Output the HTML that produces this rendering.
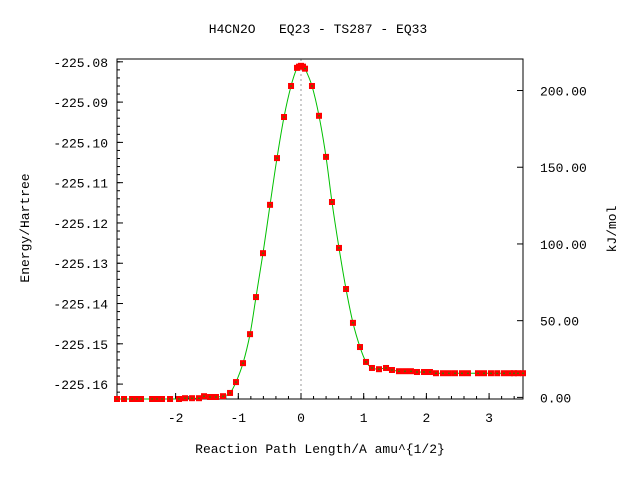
<!DOCTYPE html>
<html><head><meta charset="utf-8"><style>
body{margin:0;background:#fff}
svg text{font-family:"Liberation Mono",monospace;font-size:13px;fill:#000}
</style></head><body>
<svg id="chart" width="640" height="480" xmlns="http://www.w3.org/2000/svg">
<rect width="640" height="480" fill="#fff"/>
<text x="318" y="33" text-anchor="middle" xml:space="preserve">H4CN2O   EQ23 - TS287 - EQ33</text>
<text transform="translate(29,228) rotate(-90)" text-anchor="middle">Energy/Hartree</text>
<text transform="translate(616,229) rotate(-90)" text-anchor="middle">kJ/mol</text>
<text x="320" y="453" text-anchor="middle">Reaction Path Length/A amu^{1/2}</text>
<g id="axes"></g>
<g id="plot"></g>
</svg>
<script>
const xs=[-2.935,-2.823,-2.695,-2.616,-2.552,-2.376,-2.297,-2.217,-2.089,-1.946,-1.850,-1.738,-1.627,-1.547,-1.451,-1.356,-1.244,-1.132,-1.037,-0.925,-0.813,-0.718,-0.606,-0.494,-0.383,-0.271,-0.159,-0.064,-0.032,0,0.032,0.064,0.175,0.287,0.399,0.494,0.606,0.718,0.829,0.941,1.037,1.132,1.244,1.356,1.451,1.563,1.659,1.754,1.850,1.962,2.057,2.153,2.265,2.360,2.456,2.568,2.663,2.823,2.919,3.030,3.13,3.238,3.333,3.397,3.46,3.541];
const energies=[-225.1637,-225.1637,-225.1637,-225.1637,-225.1637,-225.1637,-225.1637,-225.1637,-225.1637,-225.1637,-225.1635,-225.1635,-225.1635,-225.1630,-225.1632,-225.1632,-225.1630,-225.1622,-225.1595,-225.1548,-225.1476,-225.1384,-225.1275,-225.1155,-225.1039,-225.0937,-225.0860,-225.0815,-225.0812,-225.0810,-225.0812,-225.0817,-225.0860,-225.0934,-225.1036,-225.1148,-225.1262,-225.1364,-225.1448,-225.1508,-225.1545,-225.1560,-225.1563,-225.1560,-225.1565,-225.1568,-225.1568,-225.1568,-225.1570,-225.1570,-225.1570,-225.1573,-225.1573,-225.1573,-225.1573,-225.1573,-225.1573,-225.1573,-225.1573,-225.1573,-225.1573,-225.1573,-225.1573,-225.1573,-225.1573,-225.1573];
const yTicks=[-225.08,-225.09,-225.10,-225.11,-225.12,-225.13,-225.14,-225.15,-225.16];
const yTickLabels=["-225.08","-225.09","-225.10","-225.11","-225.12","-225.13","-225.14","-225.15","-225.16"];
const xTicks=[-2,-1,0,1,2,3];
const kjTicks=[0,50,100,150,200];
const kjTickLabels=["0.00","50.00","100.00","150.00","200.00"];
const E0=-225.1633;
const L=117,R=523,T=59,B=399;
const xMin=-2.935,xMax=3.541,yMin=-225.1637,yMax=-225.0793;
const X=v=>L+(v-xMin)/(xMax-xMin)*(R-L);
const Y=v=>B-(v-yMin)/(yMax-yMin)*(B-T);
const KJ=k=>Y(E0+k/2625.5);
const NS="http://www.w3.org/2000/svg";
const axes=document.getElementById('axes'),plot=document.getElementById('plot');
function mk(tag,attrs,parent){const e=document.createElementNS(NS,tag);for(const k in attrs)e.setAttribute(k,attrs[k]);parent.appendChild(e);return e;}
// dotted zero line
let zl=mk('line',{x1:X(0),x2:X(0),y1:T,y2:B,stroke:'#999','stroke-dasharray':'2,3'},axes);


let fr=mk('rect',{x:L,y:T,width:R-L,height:B-T,fill:'none',stroke:'#000','stroke-width':1},axes);


// y ticks
for(let i=0;i<yTicks.length;i++){const y=Y(yTicks[i]);
 mk('line',{x1:L,x2:L+6,y1:y,y2:y,stroke:'#000'},axes);
 const t=mk('text',{x:L-9,y:y+5,'text-anchor':'end'},axes);t.textContent=yTickLabels[i];
 
 }
for(let v=-225.164;v<=-225.079;v+=0.002){const y=Y(v);if(y<T||y>B)continue;mk('line',{x1:L,x2:L+3,y1:y,y2:y,stroke:'#000'},axes);}
// x ticks
for(let i=0;i<xTicks.length;i++){const x=X(xTicks[i]);
 mk('line',{x1:x,x2:x,y1:B,y2:B-6,stroke:'#000'},axes);
 const t=mk('text',{x:x,y:B+23,'text-anchor':'middle'},axes);t.textContent=xTicks[i];
 
 }
for(let v=-2.8;v<=3.5;v+=0.2){const x=X(v);if(x<L||x>R)continue;mk('line',{x1:x,x2:x,y1:B,y2:B-3,stroke:'#000'},axes);}
// right kJ ticks
for(let i=0;i<kjTicks.length;i++){const y=KJ(kjTicks[i]);
 mk('line',{x1:R,x2:R-6,y1:y,y2:y,stroke:'#000'},axes);
 const t=mk('text',{x:R+17,y:y+5},axes);t.textContent=kjTickLabels[i];
 
 }
// curve (Catmull-Rom)
const P=xs.map((x,i)=>[X(x),Y(energies[i])]);
let d='M'+P[0][0]+','+P[0][1];
for(let i=0;i<P.length-1;i++){const p0=P[Math.max(0,i-1)],p1=P[i],p2=P[i+1],p3=P[Math.min(P.length-1,i+2)];
 d+=' C'+(p1[0]+(p2[0]-p0[0])/6)+','+(p1[1]+(p2[1]-p0[1])/6)+' '+(p2[0]-(p3[0]-p1[0])/6)+','+(p2[1]-(p3[1]-p1[1])/6)+' '+p2[0]+','+p2[1];}
let ln=mk('path',{d:d,fill:'none',stroke:'#00c000','stroke-width':1},plot);


for(const p of P){
 const r=mk('rect',{x:p[0]-3,y:p[1]-3,width:6,height:6,fill:'#f00'},plot);
 
 
 mk('line',{x1:p[0]-1,x2:p[0]+1,y1:p[1],y2:p[1],stroke:'#00a000','stroke-width':1},plot);
}
</script>
</body></html>
